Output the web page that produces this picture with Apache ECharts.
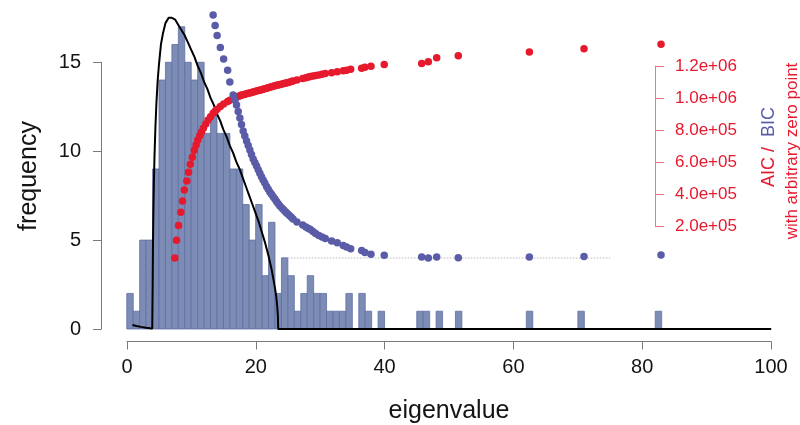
<!DOCTYPE html>
<html>
<head>
<meta charset="utf-8">
<script src="https://cdn.jsdelivr.net/npm/echarts@6/dist/echarts.min.js"></script>
<style>
  html, body { margin: 0; padding: 0; background: #fff; }
  #chart { width: 800px; height: 425px; }
</style>
</head>
<body>
<div id="chart"></div>
<script>
// Histogram of eigenvalues: unit-width bins starting at 0
const binStart = 0;
const binWidth = 1;
const binCounts = [
  2, 1, 5, 5, 9, 14, 15, 16, 17, 15,
  14, 15, 11, 12, 11, 11, 9, 9, 7, 5,
  7, 3, 6, 2, 4, 3, 1, 2, 3, 2,
  2, 1, 1, 1, 2, 0, 2, 1, 0, 1,
  0, 0, 0, 0, 0, 1, 1, 0, 1, 0,
  0, 1, 0, 0, 0, 0, 0, 0, 0, 0,
  0, 0, 1, 0, 0, 0, 0, 0, 0, 0,
  1, 0, 0, 0, 0, 0, 0, 0, 0, 0,
  0, 0, 1
];

// Theoretical eigenvalue density (scaled to counts)
const curveX = [0.88, 1.5, 2.2, 3.0, 3.6, 3.95, 4.02, 4.06, 4.12, 4.2, 4.3, 4.45, 4.6, 4.8, 5.0, 5.3, 5.6, 6.0, 6.5, 7.0,
  7.5, 8.0, 8.5, 9.0, 9.5, 10.0, 10.5, 11.0, 11.5, 12.0, 12.5, 13.0, 13.5, 14.0, 14.5, 15.0, 15.5, 16.0, 16.5, 17.0,
  17.5, 18.0, 18.5, 19.0, 19.5, 20.0, 20.5, 21.0, 21.5, 22.0, 22.5, 23.0, 23.2, 23.35, 23.45, 23.5, 40, 60, 80, 100];
const curveY = [0.22, 0.17, 0.12, 0.07, 0.04, 0.03, 2.6, 4.5, 6.4, 8.1, 9.7, 11.4, 12.7, 14.0, 14.9, 16.0, 16.6, 17.2, 17.5, 17.5,
  17.4, 17.1, 16.8, 16.5, 16.1, 15.7, 15.3, 14.8, 14.4, 13.9, 13.5, 13.0, 12.6, 12.1, 11.7, 11.2, 10.8, 10.3, 9.9, 9.4,
  9.0, 8.5, 8.0, 7.5, 7.0, 6.5, 6.0, 5.4, 4.8, 4.1, 3.3, 2.3, 1.8, 1.25, 0.7, 0, 0, 0, 0, 0];

// Information criteria evaluated at each retained eigenvalue (arbitrary zero point)
const eigen = [7.45, 7.72, 8.03, 8.39, 8.65, 8.93, 9.32, 9.58, 9.86, 10.17, 10.48, 10.76, 11.02, 11.34, 11.60, 11.88, 12.27, 12.62, 13.00,
  13.40, 13.71, 14.02, 14.52, 15.03, 15.65, 15.99, 16.51,
  16.77, 17.03, 17.29, 17.55, 17.80, 18.06, 18.32, 18.59, 18.84, 19.10, 19.35, 19.61, 19.87, 20.14, 20.40, 20.65,
  20.90, 21.16, 21.42, 21.69, 21.95, 22.20, 22.46, 22.72, 22.98, 23.24, 23.50, 23.76,
  24.1, 24.4, 24.7, 24.9, 25.2, 25.5, 25.8, 26.4, 27.3, 27.8, 28.2, 28.5, 28.9, 29.3, 29.8, 30.3, 30.8,
  31.79, 32.66, 33.59, 34.11, 34.74, 36.44, 36.96, 37.89, 39.95,
  45.76, 46.79, 48.09, 51.44, 62.47, 70.95, 82.9];
const aic = [0, 111000, 203000, 286000, 356000, 425000, 481000, 536000, 586000, 629000, 673000, 706000, 738000, 766000, 788000, 811000, 838000, 863000, 883000,
  904000, 917000, 930000, 947000, 963000, 978000, 986000, 994000,
  999000, 1004000, 1009000, 1014000, 1018000, 1021000, 1024000, 1026000, 1029000, 1031000, 1035000, 1038000, 1041000, 1044000, 1047000, 1049000,
  1052000, 1054000, 1058000, 1061000, 1064000, 1067000, 1070000, 1073000, 1076000, 1079000, 1082000, 1084000,
  1088000, 1091000, 1094000, 1096000, 1099000, 1103000, 1106000, 1113000, 1122000, 1127000, 1131000, 1134000, 1138000, 1141000, 1144000, 1149000, 1153000,
  1158000, 1164000, 1171000, 1173000, 1179000, 1186000, 1192000, 1198000, 1209000,
  1216000, 1227000, 1251000, 1264000, 1287000, 1308000, 1336000];
const bic = [null, null, null, null, null, null, null, null, null, null, null, null, null, null, null, null, null, null, null,
  1519000, 1453000, 1391000, 1316000, 1243000, 1173000, 1100000, 1019000,
  988000, 956000, 916000, 875000, 834000, 794000, 763000, 731000, 703000, 675000, 647000, 619000, 597000, 575000, 552000, 529000,
  508000, 488000, 468000, 447000, 429000, 413000, 398000, 383000, 369000, 353000, 339000, 325000,
  311000, 298000, 286000, 278000, 267000, 256000, 244000, 225000, 206000, 194000, 184000, 178000, 166000, 153000, 141000, 131000, 122000,
  106000, 96000, 78000, 69000, 58000, 47000, 34000, 23000, 17000,
  6000, 0, 6000, 1000, 6000, 9000, 19000];

// Reference level at the BIC minimum
const refLineX = [25, 75];
const refLineValue = 0;

const FONT = '"Liberation Sans", Arial, Helvetica, sans-serif';
const RED = '#e6192d';
const BLUE = '#5a5ca8';
const BAR_FILL = '#7c8cb4';
const BAR_EDGE = '#5f6fa4';
const AXIS_GRAY = '#7a7a7a';
const TEXT = '#141414';

const histData = binCounts
  .map((c, i) => [binStart + i * binWidth, binStart + (i + 1) * binWidth, c])
  .filter(d => d[2] > 0);
const curveData = curveX.map((x, i) => [x, curveY[i]]);
const aicData = eigen.map((x, i) => [x, aic[i]]);
const bicData = eigen.map((x, i) => [x, bic[i]]).filter(d => d[1] !== null);
const refData = refLineX.map(x => [x, refLineValue]);

function sci(v) {
  const e = Math.floor(Math.log10(v));
  const m = (v / Math.pow(10, e)).toFixed(1);
  return m + 'e+' + String(e).padStart(2, '0');
}

const chart = echarts.init(document.getElementById('chart'), null, { renderer: 'canvas' });

const hiddenAxis = (gridIndex) => ({ gridIndex, type: 'value', show: false });

chart.setOption({
  animation: false,
  backgroundColor: '#fff',
  grid: [
    { left: 101, right: 3, top: 5, bottom: 83.5, containLabel: false, outerBoundsMode: 'none' },
    { left: 127, right: 29, top: 5, bottom: 83.5, containLabel: false, outerBoundsMode: 'none' },
    { left: 101, right: 3, top: 62.3, bottom: 96, containLabel: false, outerBoundsMode: 'none' },
    { left: 560, right: 145, top: 66, bottom: 199, containLabel: false, outerBoundsMode: 'none' }
  ],
  xAxis: [
    { gridIndex: 0, type: 'value', min: -4, max: 104, show: false },
    {
      gridIndex: 1, type: 'value', min: 0, max: 100, interval: 20,
      axisLine: { show: true, onZero: false, lineStyle: { color: AXIS_GRAY, width: 1 } },
      axisTick: { show: true, length: 8, lineStyle: { color: AXIS_GRAY, width: 1 } },
      axisLabel: { margin: 16, fontSize: 20, fontFamily: FONT, color: TEXT },
      splitLine: { show: false }
    },
    hiddenAxis(2),
    hiddenAxis(3)
  ],
  yAxis: [
    { gridIndex: 0, type: 'value', min: -0.703, max: 18.22, show: false },
    { gridIndex: 0, type: 'value', min: -521875, max: 1581250, show: false },
    hiddenAxis(1),
    {
      gridIndex: 2, type: 'value', min: 0, max: 15, interval: 5, position: 'left',
      axisLine: { show: true, onZero: false, lineStyle: { color: AXIS_GRAY, width: 1 } },
      axisTick: { show: true, length: 8, lineStyle: { color: AXIS_GRAY, width: 1 } },
      axisLabel: { margin: 20, fontSize: 20, fontFamily: FONT, color: TEXT },
      splitLine: { show: false }
    },
    {
      gridIndex: 3, type: 'value', min: 200000, max: 1200000, interval: 200000, position: 'right',
      axisLine: { show: true, onZero: false, lineStyle: { color: '#f07684', width: 1 } },
      axisTick: { show: true, length: 9, lineStyle: { color: '#f07684', width: 1 } },
      axisLabel: { margin: 20, fontSize: 17, fontFamily: FONT, color: RED, formatter: sci },
      splitLine: { show: false }
    }
  ],
  series: [
    {
      type: 'custom',
      xAxisIndex: 0, yAxisIndex: 0,
      clip: true,
      data: histData,
      encode: { x: [0, 1], y: 2 },
      renderItem: (params, api) => {
        const p0 = api.coord([api.value(0), api.value(2)]);
        const p1 = api.coord([api.value(1), 0]);
        return {
          type: 'rect',
          shape: { x: p0[0], y: p0[1], width: p1[0] - p0[0], height: p1[1] - p0[1] },
          style: { fill: BAR_FILL, stroke: BAR_EDGE, lineWidth: 0.8 }
        };
      },
      z: 1
    },
    {
      type: 'line',
      xAxisIndex: 0, yAxisIndex: 0,
      data: curveData,
      showSymbol: false,
      symbol: 'none',
      lineStyle: { color: '#000', width: 2 },
      z: 2
    },
    {
      type: 'line',
      xAxisIndex: 0, yAxisIndex: 1,
      data: refData,
      showSymbol: false,
      symbol: 'none',
      lineStyle: { color: '#b8b8b8', width: 1, type: [1.5, 1.5] },
      z: 3
    },
    {
      type: 'scatter',
      xAxisIndex: 0, yAxisIndex: 1,
      data: aicData,
      symbol: 'circle',
      symbolSize: 7.5,
      itemStyle: { color: RED, opacity: 1 },
      clip: true,
      z: 4
    },
    {
      type: 'scatter',
      xAxisIndex: 0, yAxisIndex: 1,
      data: bicData,
      symbol: 'circle',
      symbolSize: 7.5,
      itemStyle: { color: BLUE, opacity: 1 },
      clip: true,
      z: 5
    }
  ],
  graphic: [
    {
      type: 'text', x: 29, y: 176, rotation: Math.PI / 2,
      style: { text: 'frequency', font: '25px ' + FONT, fill: TEXT, align: 'center', verticalAlign: 'middle' }
    },
    {
      type: 'text', x: 449, y: 411,
      style: { text: 'eigenvalue', font: '25px ' + FONT, fill: TEXT, align: 'center', verticalAlign: 'middle' }
    },
    {
      type: 'text', x: 769, y: 147, rotation: Math.PI / 2,
      style: {
        text: '{a|AIC /  }{b|BIC}',
        align: 'center', verticalAlign: 'middle',
        font: '18px ' + FONT,
        rich: {
          a: { fill: RED, fontSize: 18, fontFamily: FONT },
          b: { fill: BLUE, fontSize: 18, fontFamily: FONT }
        }
      }
    },
    {
      type: 'text', x: 792, y: 151, rotation: Math.PI / 2,
      style: { text: 'with arbitrary zero point', font: '17px ' + FONT, fill: RED, align: 'center', verticalAlign: 'middle' }
    }
  ]
});
</script>
</body>
</html>
